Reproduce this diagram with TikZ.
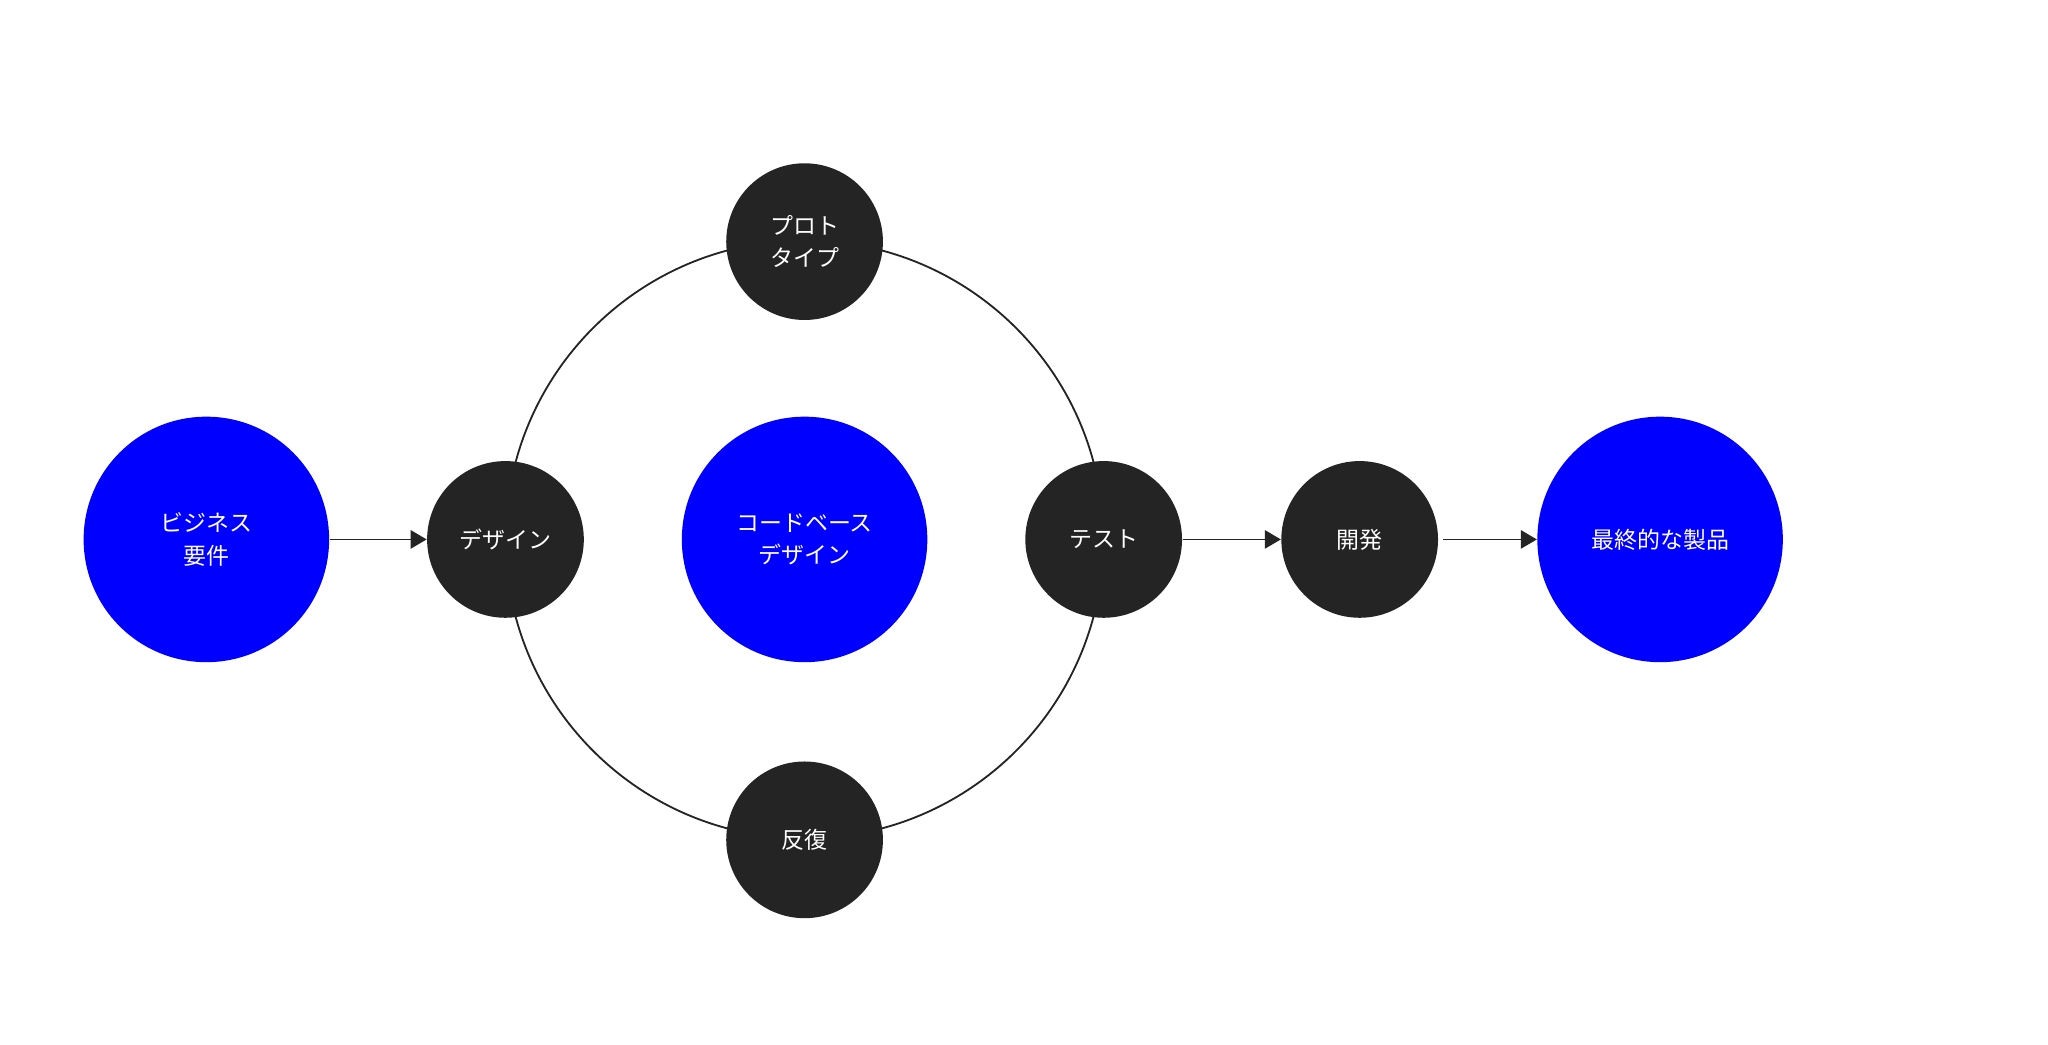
\documentclass[tikz,border=0pt]{standalone}
\usepackage{fontspec}
\newfontfamily\jpfont{Noto Sans CJK JP}
\usetikzlibrary{arrows.meta}
\definecolor{ADark}{HTML}{242424}
\definecolor{ABlue}{HTML}{0000FF}
\tikzset{
    stage/.style = {circle, fill=ADark, minimum size=2.4cm, inner sep=0pt,
        text=white, align=center, font=\jpfont\fontsize{10}{14}\selectfont},
    goal/.style = {circle, fill=ABlue, minimum size=3.76cm, inner sep=0pt,
        text=white, align=center, font=\jpfont\fontsize{10}{14}\selectfont},
    arrow/.style = {draw=ADark, thick, -{Triangle[length=7pt,width=8pt]}}
}
\begin{document}
\begin{tikzpicture}[x=0.02cm, y=-0.02cm]
    \useasboundingbox (0,0) rectangle (1568,800);
    \draw [ADark, thick] (616,413) circle [radius=4.58cm];
    \node [goal] (biz) at (158,413) {ビジネス\\要件};
    \node [stage] (design) at (387,413) {デザイン};
    \node [stage] (proto) at (616,185) {プロト\\タイプ};
    \node [goal] (code) at (616,413) {コードベース\\デザイン};
    \node [stage] (test) at (845,413) {テスト};
    \node [stage] (iter) at (616,643) {反復};
    \node [stage] (dev) at (1041,413) {開発};
    \node [goal] (final) at (1271,413) {最終的な製品};
    \draw [arrow] (biz) -- (design);
    \draw [arrow] (test) -- (dev);
    \draw [arrow] ([xshift=2pt]dev.east) -- (final);
\end{tikzpicture}
\end{document}
